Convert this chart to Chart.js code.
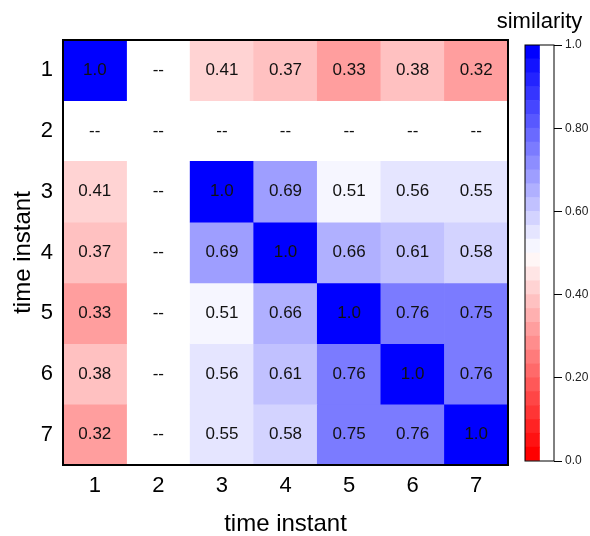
<!DOCTYPE html>
<html>
<head>
<meta charset="utf-8">
<script src="https://cdn.jsdelivr.net/npm/chart.js@4/dist/chart.umd.min.js"></script>
<style>
  html, body { margin: 0; padding: 0; background: #fff; }
  #wrap { position: relative; width: 590px; height: 536px; }
  #wrap canvas { position: absolute; top: 0; }
  #heat { left: 0; }
  #bar { left: 480px; }
</style>
</head>
<body>
<div id="wrap">
  <canvas id="heat" width="590" height="536"></canvas>
  <canvas id="bar" width="110" height="536"></canvas>
</div>
<script>
// time instants on both axes
const timeLabels = ['1', '2', '3', '4', '5', '6', '7'];

// pairwise similarity, one array per row (null = not available)
const row1 = [1.0, null, 0.41, 0.37, 0.33, 0.38, 0.32];
const row2 = [null, null, null, null, null, null, null];
const row3 = [0.41, null, 1.0, 0.69, 0.51, 0.56, 0.55];
const row4 = [0.37, null, 0.69, 1.0, 0.66, 0.61, 0.58];
const row5 = [0.33, null, 0.51, 0.66, 1.0, 0.76, 0.75];
const row6 = [0.38, null, 0.56, 0.61, 0.76, 1.0, 0.76];
const row7 = [0.32, null, 0.55, 0.58, 0.75, 0.76, 1.0];
const rows = [row1, row2, row3, row4, row5, row6, row7];

// colour bar
const levelCount = 30;
const colorbarTicks = [0, 0.2, 0.4, 0.6, 0.8, 1.0];

const FONT = "'Liberation Sans', Arial, Helvetica, sans-serif";

// discrete red-white-blue map: band k of levelCount, 0 = red, 1 = blue
function bandColor(k) {
  const t = k / (levelCount - 1);
  if (t >= 0.5) {
    const c = Math.round(2 * (1 - t) * 255);
    return `rgb(${c},${c},255)`;
  }
  const c = Math.round(2 * t * 255);
  return `rgb(255,${c},${c})`;
}
function valueColor(v) {
  const k = Math.min(levelCount - 1, Math.floor(v * levelCount));
  return bandColor(k);
}
function fmt(v) {
  return v === null ? '--' : (v === 1 ? '1.0' : v.toFixed(2));
}

// one floating-bar dataset per row, spanning [row-0.5, row+0.5]
const heatDatasets = rows.map((row, i) => ({
  data: row.map(v => v === null ? null : [i + 0.5, i + 1.5]),
  backgroundColor: row.map(v => v === null ? 'rgba(0,0,0,0)' : valueColor(v)),
  borderWidth: 0,
  grouped: false,
  barPercentage: 1,
  categoryPercentage: 1
}));

const cellText = {
  id: 'cellText',
  afterDatasetsDraw(chart) {
    const { ctx, scales: { x, y } } = chart;
    ctx.save();
    ctx.font = `17px ${FONT}`;
    ctx.fillStyle = '#111';
    ctx.textAlign = 'center';
    ctx.textBaseline = 'middle';
    rows.forEach((row, i) => {
      row.forEach((v, j) => {
        ctx.fillText(fmt(v), x.getPixelForValue(j), y.getPixelForValue(i + 1));
      });
    });
    ctx.restore();
  }
};

const frame = (width) => ({
  id: 'frame',
  afterDraw(chart) {
    const { ctx, chartArea: a } = chart;
    ctx.save();
    ctx.strokeStyle = '#000';
    ctx.lineWidth = width;
    ctx.strokeRect(a.left, a.top, a.right - a.left, a.bottom - a.top);
    ctx.restore();
  }
});

new Chart(document.getElementById('heat'), {
  type: 'bar',
  data: { labels: timeLabels, datasets: heatDatasets },
  options: {
    responsive: false,
    animation: false,
    events: [],
    layout: { padding: { top: 40, right: 82, left: 0, bottom: 0 } },
    plugins: { legend: { display: false }, tooltip: { enabled: false } },
    scales: {
      x: {
        type: 'category',
        offset: true,
        grid: { display: false, drawTicks: false },
        border: { display: false },
        ticks: { font: { family: FONT, size: 22 }, color: '#000', padding: 8 },
        title: { display: true, text: 'time instant', color: '#000',
                 font: { family: FONT, size: 24 }, padding: { top: 0, bottom: -3 } },
        afterFit(s) { s.height = 71; }
      },
      y: {
        type: 'linear',
        min: 0.5,
        max: 7.5,
        reverse: true,
        grid: { display: false, drawTicks: false },
        border: { display: false },
        afterBuildTicks(s) { s.ticks = timeLabels.map((_, i) => ({ value: i + 1 })); },
        ticks: {
          font: { family: FONT, size: 22 }, color: '#000', padding: 10,
          callback: v => timeLabels[v - 1]
        },
        title: { display: true, text: 'time instant', color: '#000',
                 font: { family: FONT, size: 24 }, padding: { top: 9, bottom: 0 } },
        afterFit(s) { s.width = 63; }
      }
    }
  },
  plugins: [cellText, frame(2)]
});

// colour bar: one stacked band per level
const barDatasets = Array.from({ length: levelCount }, (_, k) => ({
  data: [[k / levelCount, (k + 1) / levelCount]],
  backgroundColor: bandColor(k),
  borderWidth: 0,
  grouped: false,
  barPercentage: 1,
  categoryPercentage: 1
}));

const barTitle = {
  id: 'barTitle',
  afterDraw(chart) {
    const { ctx, chartArea: a } = chart;
    ctx.save();
    ctx.font = `22px ${FONT}`;
    ctx.fillStyle = '#000';
    ctx.textAlign = 'center';
    ctx.textBaseline = 'alphabetic';
    ctx.fillText('similarity', (a.left + a.right) / 2, 28);
    ctx.restore();
  }
};

new Chart(document.getElementById('bar'), {
  type: 'bar',
  data: { labels: [''], datasets: barDatasets },
  options: {
    responsive: false,
    animation: false,
    events: [],
    layout: { padding: { top: 45, bottom: 75, left: 45, right: 0 } },
    plugins: { legend: { display: false }, tooltip: { enabled: false } },
    scales: {
      x: { display: false, offset: false },
      y: {
        type: 'linear',
        position: 'right',
        min: 0,
        max: 1,
        grid: { display: true, drawOnChartArea: false, drawTicks: true,
                tickLength: 8, color: '#000', lineWidth: 1 },
        border: { display: false },
        afterBuildTicks(s) { s.ticks = colorbarTicks.map(v => ({ value: v })); },
        ticks: {
          font: { family: FONT, size: 12 }, color: '#222', padding: 3,
          callback: v => (v === 0 ? '0.0' : v === 1 ? '1.0' : v.toFixed(2))
        },
        afterFit(s) { s.width = 36; }
      }
    }
  },
  plugins: [barTitle, frame(1)]
});
</script>
</body>
</html>
